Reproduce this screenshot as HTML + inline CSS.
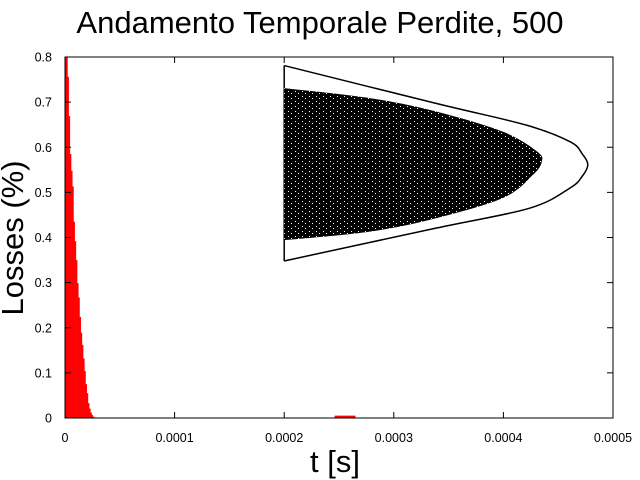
<!DOCTYPE html>
<html><head><meta charset="utf-8"><style>
body{margin:0;background:#fff;}
svg{display:block;font-family:"Liberation Sans",sans-serif;}
</style></head><body>
<svg id="c" width="640" height="480">
<defs>
<pattern id="speck" width="7" height="5" patternUnits="userSpaceOnUse">
<rect width="7" height="5" fill="#000"/>
<rect x="1" y="1" width="1" height="1" fill="#fff"/>
<rect x="4" y="3" width="1" height="1" fill="#fff"/>
</pattern>
</defs>
</svg>
<script>
const xTicks=[0,0.0001,0.0002,0.0003,0.0004,0.0005];
const xTickLabels=["0","0.0001","0.0002","0.0003","0.0004","0.0005"];
const yTicks=[0,0.1,0.2,0.3,0.4,0.5,0.6,0.7,0.8];
const yTickLabels=["0","0.1","0.2","0.3","0.4","0.5","0.6","0.7","0.8"];
const lossStep=1.1e-6;
const lossValues=[0.8,0.8,0.756,0.669,0.585,0.548,0.513,0.435,0.392,0.35,0.299,0.267,0.224,0.189,0.162,0.132,0.104,0.075,0.055,0.033,0.021,0.012,0.007,0.003,0.001];
const lateLossStart=0.000246, lateLossEnd=0.000265, lateLossValue=0.003;
const outerTimes=[0.0002,0.000339,0.000421,0.000461,0.000472,0.000477,0.000472,0.000461,0.000424,0.000339,0.0002];
const outerLosses=[0.781,0.697,0.649,0.612,0.585,0.561,0.536,0.510,0.465,0.421,0.348];
const coreTimes=[0.0002,0.000278,0.000339,0.0004,0.000431,0.000435,0.000427,0.0004,0.000339,0.000278,0.0002];
const coreLosses=[0.731,0.709,0.679,0.634,0.590,0.568,0.539,0.488,0.443,0.413,0.394];
const L=65,R=613,T=57,B=418;
const X=v=>L+(v-0)/0.0005*(R-L);
const Y=v=>B-v/0.8*(B-T);
const svg=document.getElementById('c');
const NS="http://www.w3.org/2000/svg";
function mk(tag,attrs,parent){const e=document.createElementNS(NS,tag);for(const k in attrs)e.setAttribute(k,attrs[k]);(parent||svg).appendChild(e);return e;}
function smooth(pts){let d='M'+pts[0][0]+','+pts[0][1];for(let i=0;i<pts.length-1;i++){const p0=pts[Math.max(0,i-1)],p1=pts[i],p2=pts[i+1],p3=pts[Math.min(pts.length-1,i+2)];d+=` C${p1[0]+(p2[0]-p0[0])/6},${p1[1]+(p2[1]-p0[1])/6} ${p2[0]-(p3[0]-p1[0])/6},${p2[1]-(p3[1]-p1[1])/6} ${p2[0]},${p2[1]}`;}return d;}
let t=mk('text',{x:320,y:33,'text-anchor':'middle','font-size':31});t.textContent="Andamento Temporale Perdite, 500";


t=mk('text',{x:0,y:0,'text-anchor':'middle','font-size':31,transform:'translate(23,238) rotate(-90)'});t.textContent="Losses (%)";


t=mk('text',{x:335,y:472,'text-anchor':'middle','font-size':31});t.textContent="t [s]";


lossValues.forEach((v,i)=>{
 const r=mk('rect',{x:X(i*lossStep),y:Y(v),width:X(lossStep)-X(0)+0.3,height:B-Y(v),fill:'#f00'});
 
 
});
let lr=mk('rect',{x:X(lateLossStart),y:Y(lateLossValue)-1,width:X(lateLossEnd)-X(lateLossStart),height:B-Y(lateLossValue)+1,fill:'#f00'});


let p=mk('path',{d:smooth(outerTimes.map((v,i)=>[X(v),Y(outerLosses[i])])),fill:'none',stroke:'#000','stroke-width':1.5});


let vl=mk('line',{x1:X(0.0002),x2:X(0.0002),y1:Y(outerLosses[0]),y2:Y(outerLosses[outerLosses.length-1]),stroke:'#000','stroke-width':1.5});


let cp=mk('path',{d:smooth(coreTimes.map((v,i)=>[X(v),Y(coreLosses[i])]))+' Z',fill:'url(#speck)'});


let f=mk('rect',{x:L,y:T,width:R-L,height:B-T,fill:'none',stroke:'#000','stroke-width':1});


xTicks.forEach((v,i)=>{
 mk('line',{x1:X(v),x2:X(v),y1:B,y2:B-6,stroke:'#000'});
 mk('line',{x1:X(v),x2:X(v),y1:T,y2:T+6,stroke:'#000'});
 const tl=mk('text',{x:X(v),y:B+24,'text-anchor':'middle','font-size':12.5});tl.textContent=xTickLabels[i];
 
 
});
yTicks.forEach((v,i)=>{
 mk('line',{x1:L,x2:L+6,y1:Y(v),y2:Y(v),stroke:'#000'});
 mk('line',{x1:R,x2:R-6,y1:Y(v),y2:Y(v),stroke:'#000'});
 const tl=mk('text',{x:L-13,y:Y(v)+4.5,'text-anchor':'end','font-size':12.5});tl.textContent=yTickLabels[i];
 
 
});
</script>
</body></html>
